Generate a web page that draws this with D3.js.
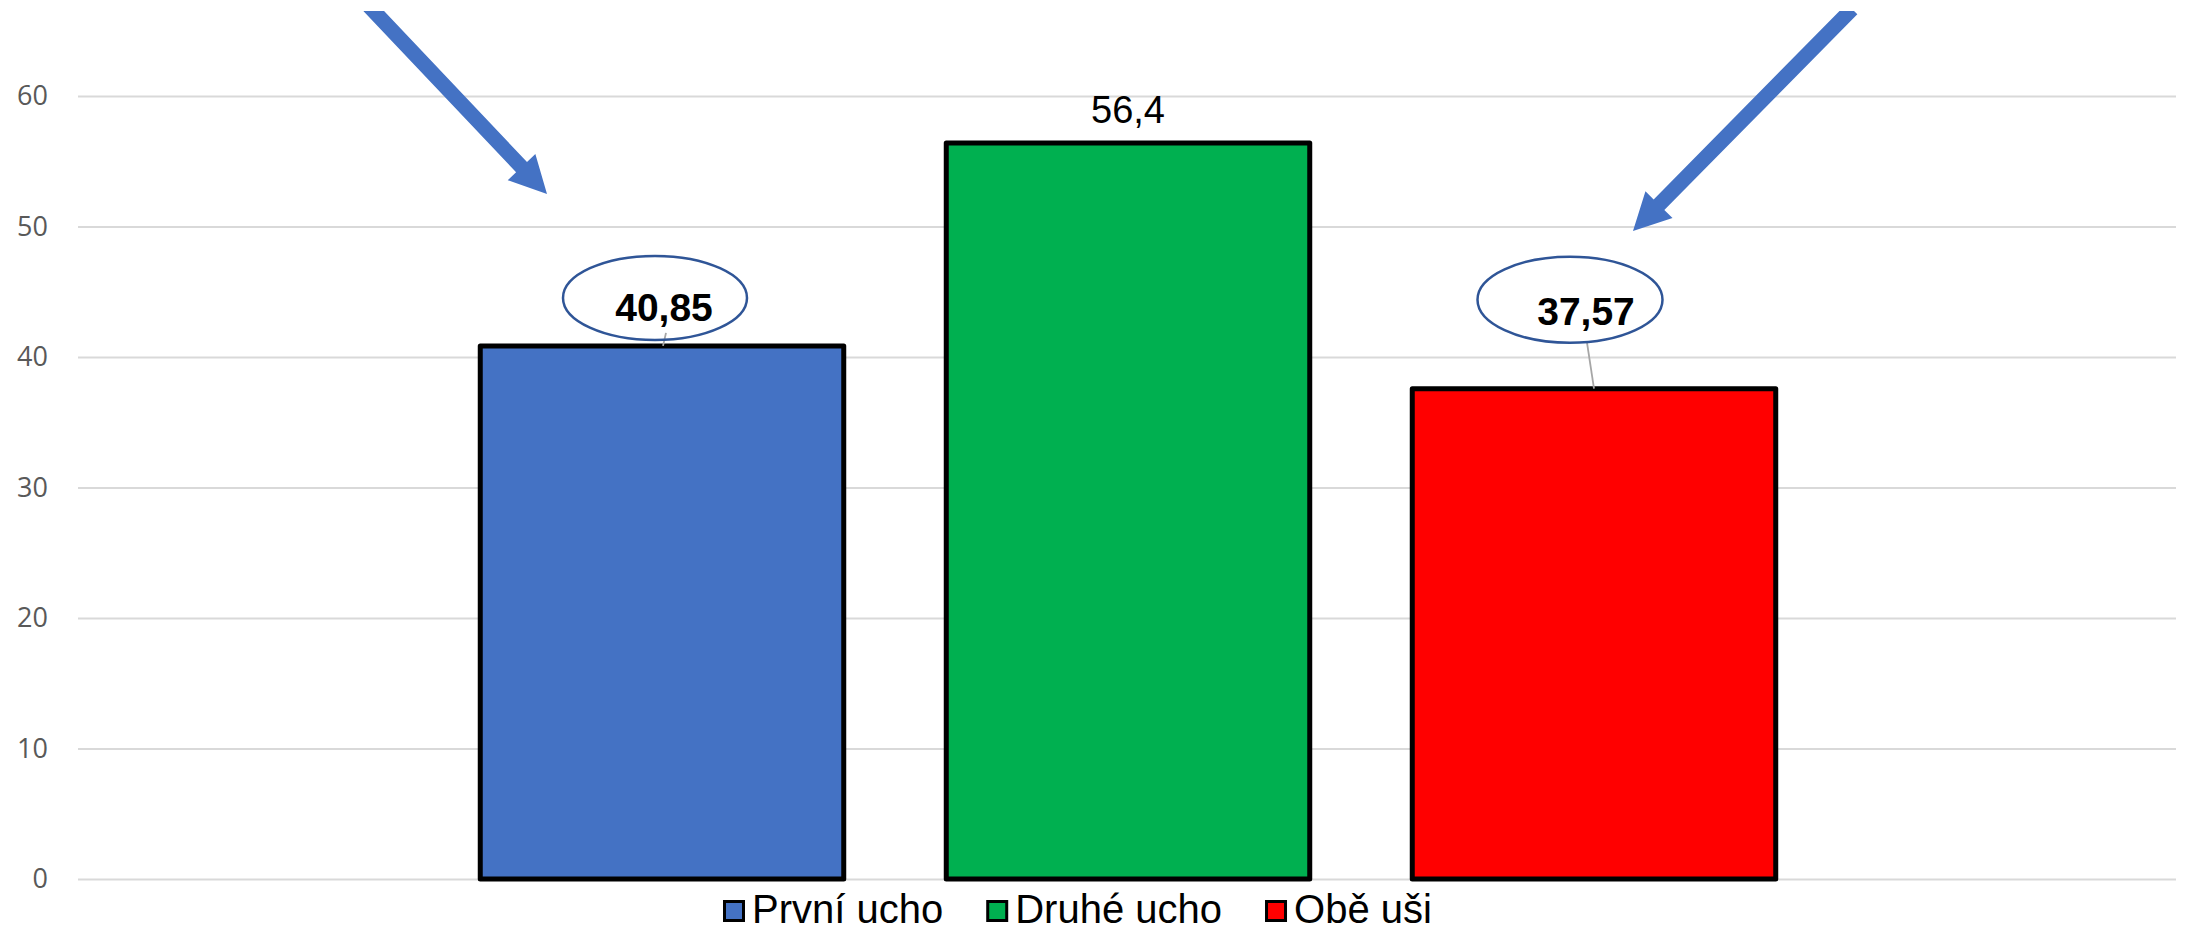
<!DOCTYPE html>
<html>
<head>
<meta charset="utf-8">
<script src="https://cdn.jsdelivr.net/npm/d3@7"></script>
<style>
  html, body { margin: 0; padding: 0; background: #fff; }
  svg { display: block; }
</style>
</head>
<body>
<svg id="chart" width="2190" height="930"></svg>
<script>
// ---- data ----
const series = ["První ucho", "Druhé ucho", "Obě uši"];
const values = [40.85, 56.4, 37.57];
const colors = ["#4472C4", "#00B050", "#FF0000"];
const yTicks = [0, 10, 20, 30, 40, 50, 60];
const valueLabels = ["40,85", "56,4", "37,57"];
const highlighted = [true, false, true];

// ---- layout ----
const W = 2190, H = 930;
const plot = { left: 78, right: 2176, top: 96, bottom: 879 };
const svg = d3.select("#chart");

const y = d3.scaleLinear().domain([0, 60]).range([plot.bottom, plot.top]);
const x = d3.scaleBand().domain(series).range([429, 1827]).paddingInner(0.22).paddingOuter(0.11);

// gridlines + y axis
const yAxis = d3.axisLeft(y).tickValues(yTicks)
  .tickSizeInner(-(plot.right - plot.left)).tickSizeOuter(0).tickPadding(30)
  .tickFormat(d3.format("d"));
const ag = svg.append("g").attr("transform", `translate(${plot.left},0)`).call(yAxis);
ag.select(".domain").remove();
ag.selectAll(".tick line").attr("stroke", "#D9D9D9").attr("stroke-width", 2);
ag.selectAll(".tick text").attr("fill", "#595959")
  .style("font-family", "'Open Sans', sans-serif").style("font-size", "27px");

// bars
svg.append("g").selectAll("rect").data(series).join("rect")
  .attr("x", d => x(d))
  .attr("y", (d, i) => y(values[i]))
  .attr("width", x.bandwidth())
  .attr("height", (d, i) => y(0) - y(values[i]))
  .attr("fill", (d, i) => colors[i])
  .attr("stroke", "#000").attr("stroke-width", 5).attr("stroke-linejoin", "round");

// callout annotations (label offsets relative to bar top center)
const callouts = {
  0: { tdx: 2, tdy: -25, edx: -7, edy: -48, rx: 92, ry: 42, l1: [4, -13], l2: [1, 0] },
  2: { tdx: -8, tdy: -64, edx: -24, edy: -89, rx: 92.5, ry: 43, l1: [-7, -46], l2: [0, 0] }
};

const lab = svg.append("g");
series.forEach((s, i) => {
  const cx = x(s) + x.bandwidth() / 2;
  const top = y(values[i]);
  if (highlighted[i]) {
    const c = callouts[i];
    lab.append("line")
      .attr("x1", cx + c.l1[0]).attr("y1", top + c.l1[1])
      .attr("x2", cx + c.l2[0]).attr("y2", top + c.l2[1])
      .attr("stroke", "#A6A6A6").attr("stroke-width", 1.8);
    lab.append("ellipse")
      .attr("cx", cx + c.edx).attr("cy", top + c.edy)
      .attr("rx", c.rx).attr("ry", c.ry)
      .attr("fill", "none").attr("stroke", "#2F5597").attr("stroke-width", 2.5);
    lab.append("text")
      .attr("x", cx + c.tdx).attr("y", top + c.tdy)
      .attr("text-anchor", "middle")
      .style("font-family", "'Liberation Sans', Arial, sans-serif")
      .style("font-weight", "bold").style("font-size", "39px")
      .attr("fill", "#000").text(valueLabels[i]);
  } else {
    lab.append("text")
      .attr("x", cx).attr("y", top - 20)
      .attr("text-anchor", "middle")
      .style("font-family", "'Liberation Sans', Arial, sans-serif")
      .style("font-size", "38px")
      .attr("fill", "#000").text(valueLabels[i]);
  }
});

// arrows (annotation shapes)
const arrows = [
  { from: [369, 6], to: [547, 194] },
  { from: [1852, 9], to: [1633, 231] }
];
const shaftW = 15, headW = 38, headL = 37;
svg.append("defs").append("clipPath").attr("id", "clipTop")
  .append("rect").attr("x", 0).attr("y", 11).attr("width", W).attr("height", H);
const arrG = svg.append("g").attr("clip-path", "url(#clipTop)");
arrows.forEach(a => {
  const dx = a.to[0] - a.from[0], dy = a.to[1] - a.from[1];
  const len = Math.hypot(dx, dy);
  const ux = dx / len, uy = dy / len;
  const px = -uy, py = ux;
  const bx = a.to[0] - ux * headL, by = a.to[1] - uy * headL;
  const pts = [
    [a.from[0] + px * shaftW / 2, a.from[1] + py * shaftW / 2],
    [bx + px * shaftW / 2, by + py * shaftW / 2],
    [bx + px * headW / 2, by + py * headW / 2],
    a.to,
    [bx - px * headW / 2, by - py * headW / 2],
    [bx - px * shaftW / 2, by - py * shaftW / 2],
    [a.from[0] - px * shaftW / 2, a.from[1] - py * shaftW / 2]
  ];
  arrG.append("path").attr("d", d3.line()(pts) + "Z").attr("fill", "#4472C4");
});

// legend
const leg = svg.append("g");
let lx = 723;
series.forEach((s, i) => {
  leg.append("rect").attr("x", lx + 1.5).attr("y", 901.5).attr("width", 19).attr("height", 19)
    .attr("fill", colors[i]).attr("stroke", "#000").attr("stroke-width", 3);
  const t = leg.append("text").attr("x", lx + 29).attr("y", 923)
    .style("font-family", "'Liberation Sans', Arial, sans-serif").style("font-size", "40px")
    .attr("fill", "#000").text(s);
  lx = lx + 29 + t.node().getComputedTextLength() + 43;
});
</script>
</body>
</html>
